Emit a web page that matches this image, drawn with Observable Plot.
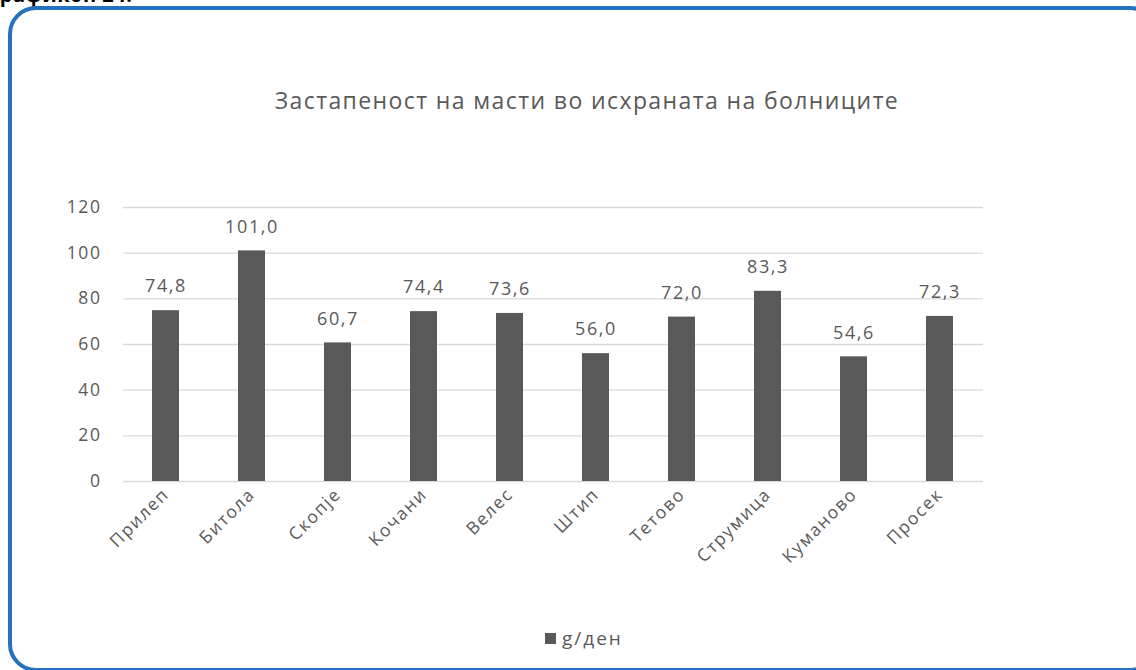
<!DOCTYPE html>
<html>
<head>
<meta charset="utf-8">
<script src="https://cdn.jsdelivr.net/npm/d3@7"></script>
<script src="https://cdn.jsdelivr.net/npm/@observablehq/plot@0.6"></script>
<style>
  html, body { margin: 0; padding: 0; background: #fff; overflow: hidden; }
  body { width: 1136px; height: 670px; position: relative; font-family: "Open Sans", sans-serif; }
  #frame { position: absolute; left: 8px; top: 6px; width: 1150px; height: 666px; border: 4.5px solid #2472c0; border-radius: 28px; box-sizing: border-box; }
  #caption { position: absolute; left: -12px; top: -19px; font: bold 20px "Open Sans", sans-serif; letter-spacing: 0.5px; color: #000; white-space: nowrap; }
  #title { position: absolute; left: 0; width: 1174px; top: 84px; text-align: center; font-size: 23px; letter-spacing: 1.4px; color: #595959; white-space: nowrap; }
  #chart { position: absolute; left: 0; top: 0; }
  #chart text { letter-spacing: 1.6px; }
  #legend { position: absolute; left: 545px; top: 625px; font-size: 19px; letter-spacing: 2px; color: #595959; display: flex; align-items: center; gap: 6px; }
  #legend .sw { width: 11px; height: 11px; background: #595959; }
</style>
</head>
<body>
<div id="caption">Графикон 24.</div>
<div id="frame"></div>
<div id="title">Застапеност на масти во исхраната на болниците</div>
<div id="chart"></div>
<div id="legend"><span class="sw"></span><span>g/ден</span></div>
<script>
const cities = ["Прилеп", "Битола", "Скопје", "Кочани", "Велес", "Штип", "Тетово", "Струмица", "Куманово", "Просек"];
const values = [74.8, 101.0, 60.7, 74.4, 73.6, 56.0, 72.0, 83.3, 54.6, 72.3];
const yTicks = [0, 20, 40, 60, 80, 100, 120];
const seriesName = "g/ден";

const data = cities.map((c, i) => ({city: c, value: values[i]}));
const fmt = v => v.toFixed(1).replace(".", ",");

const chart = Plot.plot({
  width: 1136,
  height: 670,
  marginLeft: 123,
  marginRight: 153,
  marginTop: 207,
  marginBottom: 189,
  style: {fontFamily: "Open Sans, sans-serif", fontSize: "17.5px", color: "#595959", background: "transparent", overflow: "visible"},
  x: {domain: cities, paddingInner: 0.685, paddingOuter: 0.3425, label: null, tickSize: 0, tickRotate: -45, tickPadding: 10},
  y: {domain: [0, 120], ticks: yTicks, label: null, tickSize: 0, tickPadding: 22, tickFormat: d => String(d)},
  marks: [
    Plot.ruleY(yTicks, {stroke: "#d9d9d9", strokeWidth: 1.3}),
    Plot.barY(data, {x: "city", y: "value", fill: "#595959"}),
    Plot.text(data, {x: "city", y: "value", text: d => fmt(d.value), dy: -24, fill: "#595959", fontSize: 18})
  ]
});
document.getElementById("chart").appendChild(chart);
</script>
</body>
</html>
